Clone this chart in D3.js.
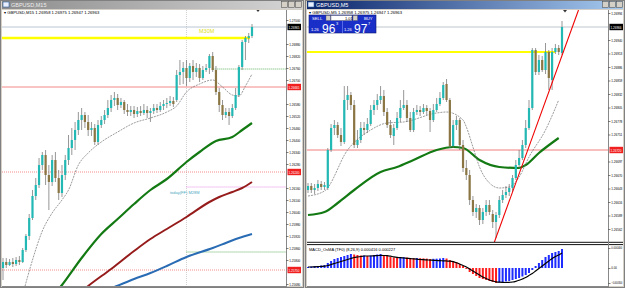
<!DOCTYPE html>
<html><head><meta charset="utf-8">
<script src="https://cdn.jsdelivr.net/npm/d3@7"></script>
<style>
body{margin:0;background:#d4d0c8;overflow:hidden}
svg{display:block;font-family:"Liberation Sans",Arial,sans-serif}
</style></head><body>
<script>
const W = 625, H = 288

// GBPUSD M15 candles [open, high, low, close]
const m15 = [
[1.25760,1.25810,1.25700,1.25790],[1.25790,1.25810,1.25760,1.25775],[1.25775,1.25805,1.25770,1.25790],
[1.25790,1.25810,1.25765,1.25780],[1.25780,1.25815,1.25770,1.25800],[1.25800,1.25820,1.25775,1.25790],
[1.25790,1.25860,1.25785,1.25850],[1.25850,1.25930,1.25840,1.25920],[1.25920,1.26030,1.25900,1.26010],
[1.26010,1.26150,1.26000,1.26120],[1.26120,1.26210,1.26100,1.26175],[1.26175,1.26310,1.26160,1.26275],
[1.26275,1.26340,1.26250,1.26325],[1.26325,1.26350,1.26175,1.26225],[1.26225,1.26275,1.26050,1.26190],
[1.26190,1.26325,1.26170,1.26300],[1.26300,1.26340,1.26190,1.26210],[1.26210,1.26250,1.26100,1.26135],
[1.26135,1.26275,1.26115,1.26225],[1.26225,1.26325,1.26200,1.26300],[1.26300,1.26425,1.26275,1.26360],
[1.26360,1.26460,1.26325,1.26400],[1.26400,1.26490,1.26350,1.26450],[1.26450,1.26540,1.26425,1.26500],
[1.26500,1.26560,1.26450,1.26525],[1.26525,1.26540,1.26460,1.26490],[1.26490,1.26525,1.26420,1.26450],
[1.26450,1.26490,1.26420,1.26460],[1.26460,1.26480,1.26375,1.26390],[1.26390,1.26500,1.26375,1.26475],
[1.26475,1.26520,1.26460,1.26500],[1.26500,1.26550,1.26480,1.26525],[1.26525,1.26600,1.26510,1.26560],
[1.26560,1.26625,1.26540,1.26600],[1.26600,1.26640,1.26570,1.26610],[1.26610,1.26630,1.26550,1.26575],
[1.26575,1.26610,1.26560,1.26590],[1.26590,1.26600,1.26530,1.26550],[1.26550,1.26580,1.26520,1.26540],
[1.26540,1.26570,1.26520,1.26550],[1.26550,1.26570,1.26510,1.26530],[1.26530,1.26565,1.26515,1.26545],
[1.26545,1.26570,1.26520,1.26535],[1.26535,1.26580,1.26525,1.26550],[1.26550,1.26570,1.26510,1.26535],
[1.26535,1.26560,1.26490,1.26545],[1.26545,1.26580,1.26530,1.26560],[1.26560,1.26580,1.26535,1.26550],
[1.26550,1.26590,1.26540,1.26570],[1.26570,1.26600,1.26550,1.26580],[1.26580,1.26610,1.26560,1.26585],
[1.26585,1.26620,1.26570,1.26595],[1.26595,1.26615,1.26565,1.26580],[1.26600,1.26750,1.26590,1.26725],
[1.26725,1.26800,1.26675,1.26740],[1.26740,1.26790,1.26680,1.26760],[1.26760,1.26800,1.26670,1.26710],
[1.26710,1.26785,1.26690,1.26770],[1.26770,1.26800,1.26700,1.26740],[1.26740,1.26785,1.26715,1.26760],
[1.26760,1.26780,1.26690,1.26710],[1.26710,1.26770,1.26700,1.26750],[1.26750,1.26780,1.26740,1.26760],
[1.26760,1.26830,1.26730,1.26820],[1.26820,1.26840,1.26740,1.26750],[1.26750,1.26770,1.26625,1.26640],
[1.26640,1.26660,1.26540,1.26575],[1.26575,1.26600,1.26500,1.26525],[1.26525,1.26560,1.26510,1.26540],
[1.26540,1.26560,1.26475,1.26520],[1.26520,1.26580,1.26510,1.26560],[1.26560,1.26660,1.26550,1.26625],
[1.26625,1.26775,1.26615,1.26765],[1.26765,1.26900,1.26750,1.26890],[1.26890,1.26920,1.26800,1.26910],
[1.26910,1.26935,1.26885,1.26920],[1.26920,1.26980,1.26910,1.26965]
]

// moving averages on M15 as [bar index, price]
const m15Fast = [[6,1.25625],[9,1.25800],[12,1.25945],[15,1.26035],[18,1.26100],[20,1.26150],[23,1.26275],
  [26,1.26335],[30,1.26390],[35,1.26440],[40,1.26485],[45,1.26510],[50,1.26540],[53,1.26570],[56,1.26640],
  [60,1.26680],[64,1.26700],[67,1.26665],[70,1.26625],[72,1.26620],[74,1.26670],[76,1.26730]]
const m15Green = [[14,1.25595],[18,1.25675],[24,1.25810],[30,1.25930],[35,1.26005],[40,1.26080],[45,1.26150],
  [50,1.26205],[56,1.26290],[60,1.26340],[65,1.26395],[70,1.26415],[73,1.26450],[76,1.26485]]
const m15Maroon = [[22,1.25615],[26,1.25670],[33,1.25755],[40,1.25845],[45,1.25905],[50,1.25955],[56,1.26015],
  [63,1.26090],[66,1.26115],[70,1.26140],[73,1.26160],[76,1.26190]]
const m15Blue = [[30,1.25640],[34,1.25665],[40,1.25705],[45,1.25735],[50,1.25770],[56,1.25815],[64,1.25860],
  [68,1.25885],[72,1.25910],[76,1.25930]]

const m15Yellow = 1.26910
const m15Red = 1.26665
const m15RedDotted = [1.26240, 1.25750]
const m15GreenDotted = [[64, 1.26755], [56, 1.25840]]
const m15Magenta = [56, 1.26165]
const m15Session = 56
const m15Ticks = d3.range(0, 23).map(k => +(1.27000 - k * 0.0006).toFixed(5))

// GBPUSD M5 candles [open, high, low, close]
const m5 = [
[1.26640,1.26654,1.26634,1.26648],[1.26648,1.26654,1.26634,1.26640],[1.26640,1.26652,1.26632,1.26644],
[1.26644,1.26660,1.26638,1.26652],[1.26652,1.26658,1.26640,1.26646],[1.26646,1.26656,1.26640,1.26650],
[1.26644,1.26724,1.26640,1.26720],[1.26720,1.26772,1.26716,1.26764],[1.26764,1.26780,1.26750,1.26770],
[1.26770,1.26776,1.26744,1.26750],[1.26750,1.26764,1.26728,1.26736],[1.26736,1.26848,1.26732,1.26820],
[1.26820,1.26848,1.26800,1.26830],[1.26830,1.26836,1.26800,1.26810],[1.26810,1.26820,1.26724,1.26730],
[1.26730,1.26760,1.26724,1.26740],[1.26740,1.26776,1.26734,1.26764],[1.26764,1.26776,1.26750,1.26760],
[1.26760,1.26784,1.26754,1.26772],[1.26772,1.26810,1.26768,1.26800],[1.26800,1.26820,1.26790,1.26810],
[1.26810,1.26832,1.26800,1.26820],[1.26820,1.26848,1.26812,1.26828],[1.26828,1.26840,1.26788,1.26796],
[1.26796,1.26804,1.26764,1.26770],[1.26770,1.26780,1.26744,1.26750],[1.26748,1.26772,1.26730,1.26764],
[1.26764,1.26796,1.26760,1.26784],[1.26784,1.26820,1.26776,1.26804],[1.26804,1.26840,1.26800,1.26810],
[1.26810,1.26820,1.26776,1.26784],[1.26784,1.26796,1.26756,1.26760],[1.26760,1.26804,1.26756,1.26796],
[1.26796,1.26810,1.26790,1.26800],[1.26800,1.26808,1.26788,1.26796],[1.26796,1.26812,1.26792,1.26804],
[1.26804,1.26810,1.26790,1.26798],[1.26798,1.26804,1.26756,1.26780],[1.26780,1.26812,1.26776,1.26800],
[1.26800,1.26824,1.26796,1.26812],[1.26812,1.26836,1.26808,1.26824],[1.26824,1.26856,1.26820,1.26850],
[1.26852,1.26862,1.26816,1.26820],[1.26820,1.26824,1.26724,1.26728],[1.26728,1.26780,1.26724,1.26770],
[1.26770,1.26788,1.26760,1.26780],[1.26780,1.26784,1.26720,1.26730],[1.26730,1.26740,1.26676,1.26684],
[1.26684,1.26700,1.26660,1.26670],[1.26670,1.26680,1.26610,1.26620],[1.26620,1.26628,1.26588,1.26596],
[1.26596,1.26612,1.26584,1.26604],[1.26604,1.26610,1.26570,1.26580],[1.26580,1.26604,1.26572,1.26596],
[1.26596,1.26620,1.26588,1.26610],[1.26610,1.26620,1.26590,1.26596],[1.26592,1.26600,1.26564,1.26576],
[1.26576,1.26596,1.26544,1.26590],[1.26590,1.26628,1.26584,1.26620],[1.26620,1.26640,1.26614,1.26630],
[1.26630,1.26648,1.26624,1.26636],[1.26636,1.26652,1.26628,1.26644],[1.26644,1.26670,1.26636,1.26664],
[1.26664,1.26700,1.26660,1.26690],[1.26690,1.26720,1.26684,1.26704],[1.26704,1.26740,1.26700,1.26730],
[1.26730,1.26780,1.26724,1.26764],[1.26764,1.26820,1.26760,1.26804],[1.26804,1.26924,1.26800,1.26920],
[1.26920,1.26924,1.26870,1.26876],[1.26876,1.26910,1.26870,1.26900],[1.26900,1.26908,1.26876,1.26880],
[1.26880,1.26934,1.26872,1.26916],[1.26916,1.26920,1.26840,1.26864],[1.26860,1.26924,1.26840,1.26916],
[1.26916,1.26932,1.26912,1.26924],[1.26924,1.26930,1.26910,1.26916],[1.26914,1.26978,1.26910,1.26966]
]

const m5Fast = [[0,1.26628],[5,1.26638],[12,1.26720],[19,1.26760],[24,1.26774],[29,1.26776],[39,1.26794],
  [42,1.26796],[47,1.26780],[48,1.26766],[50,1.26726],[52,1.26686],[55,1.26654],[58,1.26644],[61,1.26646],
  [64,1.26666],[67,1.26706],[72,1.26760],[76,1.26820]]
const m5Green = [[0,1.26590],[5,1.26596],[9,1.26614],[14,1.26640],[22,1.26676],[27,1.26686],[32,1.26700],
  [39,1.26720],[44,1.26726],[47,1.26724],[52,1.26700],[58,1.26686],[64,1.26684],[66,1.26690],[70,1.26714],[76,1.26744]]
const m5Yellow = 1.26916
const m5Red = 1.26720
const m5Trend = [[56.4, 1.26534], [82, 1.27000]]
const m5Ticks = d3.range(0, 18).map(k => +(1.26994 - k * 0.00027).toFixed(5))

// MACD OsMA (8,26,9) histogram and signal, one per M5 bar
const osma = [0.00002,0.00003,0.00004,0.00004,0.00005,0.00006,0.0001,0.00014,0.00018,0.0002,0.00022,0.00024,
  0.00026,0.00028,0.00027,0.00026,0.00025,0.00025,0.00024,0.00025,0.00026,0.00027,0.00028,0.00026,0.00024,
  0.00022,0.00021,0.0002,0.00021,0.00022,0.00021,0.0002,0.000196,0.0002,0.000196,0.000192,0.000188,0.00018,
  0.000184,0.000186,0.00019,0.0002,0.00019,0.00016,0.00014,0.00012,0.00008,0.00004,-0.00002,-0.00008,
  -0.00012,-0.00016,-0.0002,-0.00022,-0.00024,-0.00026,-0.00028,-0.0003,-0.00029,-0.00028,-0.00027,-0.00026,
  -0.00024,-0.00022,-0.0002,-0.00017,-0.00014,-0.0001,-0.00004,0.00004,0.0001,0.00016,0.00022,0.00026,
  0.0003,0.00032,0.00034,0.00038]
const signal = [0.00002,0.00002,0.000024,0.000028,0.000032,0.000036,0.00005,0.00007,0.00009,0.00011,0.00013,
  0.00015,0.00017,0.00019,0.00021,0.00022,0.00023,0.00024,0.00024,0.00024,0.000244,0.000248,0.000252,0.00025,
  0.000246,0.000236,0.000224,0.000214,0.000206,0.0002,0.000194,0.000188,0.000182,0.000176,0.00017,0.000166,
  0.000162,0.000158,0.000154,0.00015,0.000146,0.000144,0.00014,0.000136,0.000126,0.000106,0.00008,0.00005,
  0.00002,-0.00002,-0.00006,-0.0001,-0.00014,-0.00018,-0.00021,-0.00024,-0.00026,-0.000276,-0.000284,
  -0.000288,-0.00029,-0.000286,-0.00028,-0.000266,-0.000246,-0.00022,-0.00019,-0.00015,-0.00011,-0.00006,
  -0.00001,0.00004,0.00009,0.00014,0.00019,0.00023,0.00026,0.0003]
const macdTicks = [0.0004, 0, -0.0003]

const bull = '#22b8b4', bear = '#8a7543'

const svg = d3.select('body').append('svg').attr('width', W).attr('height', H)
const defs = svg.append('defs')

function grad(id, c1, c2) {
  const g = defs.append('linearGradient').attr('id', id)
  g.append('stop').attr('offset', '0%').attr('stop-color', c1)
  g.append('stop').attr('offset', '100%').attr('stop-color', c2)
}
grad('inactive', '#8c8c8c', '#d6d6d6')
grad('active', '#0a246a', '#a6caf0')

function clip(id, x, y, w, h) {
  defs.append('clipPath').attr('id', id).append('rect').attr('x', x).attr('y', y).attr('width', w).attr('height', h)
}
clip('clipL', 2, 10, 284.5, 276.5)
clip('clipR', 307, 10, 301.5, 232)
clip('clipM', 307, 245, 301.5, 41)

function windowFrame(x0, w, title, active) {
  const g = svg.append('g')
  g.append('rect').attr('x', x0 + 0.5).attr('y', 0.5).attr('width', w - 1).attr('height', H - 1)
    .attr('fill', '#d4d0c8').attr('stroke', '#808080')
  g.append('rect').attr('x', x0 + 2).attr('y', 1).attr('width', w - 4).attr('height', 8)
    .attr('fill', `url(#${active ? 'active' : 'inactive'})`)
  g.append('rect').attr('x', x0 + 3).attr('y', 2).attr('width', 6).attr('height', 5)
    .attr('fill', '#e8f0ff').attr('stroke', '#3060a0').attr('stroke-width', 0.6)
  g.append('text').attr('x', x0 + 11).attr('y', 7.3).attr('font-size', 5.5)
    .attr('fill', active ? '#ffffff' : '#eeeeee').text(title)
  ;[22, 15, 8].forEach(o => {
    g.append('rect').attr('x', x0 + w - o - 0.5).attr('y', 1.5).attr('width', 6).attr('height', 6)
      .attr('fill', '#d4d0c8').attr('stroke', '#404040').attr('stroke-width', 0.5)
  })
  g.append('rect').attr('x', x0 + 2).attr('y', 10).attr('width', w - 4).attr('height', H - 12).attr('fill', '#fff')
}
windowFrame(0, 304, 'GBPUSD,M15', false)
windowFrame(305, 320, 'GBPUSD,M5', true)

// scales
const xL = d3.scaleLinear().domain([0, 76]).range([3, 252])
const yL = d3.scaleLinear().domain([1.25680, 1.27000]).range([284, 20])
const xR = d3.scaleLinear().domain([0, 77]).range([308, 562])
const yR = d3.scaleLinear().domain([1.26536, 1.27000]).range([242, 10])
const yM = d3.scaleLinear().domain([-0.00032, 0.00042]).range([284, 247])

function hline(g, y, x1, x2, color, width, dash) {
  g.append('line').attr('x1', x1).attr('x2', x2).attr('y1', y).attr('y2', y)
    .attr('stroke', color).attr('stroke-width', width).attr('stroke-dasharray', dash || null)
}

function drawMA(g, pts, x, y, color, width, dash) {
  g.append('path').datum(pts)
    .attr('d', d3.line().x(d => x(d[0])).y(d => y(d[1])).curve(d3.curveMonotoneX))
    .attr('fill', 'none').attr('stroke', color).attr('stroke-width', width)
    .attr('stroke-dasharray', dash || null)
}

function drawCandles(g, data, x, y) {
  const c = g.selectAll('g.c').data(data).join('g').attr('class', 'c')
  c.append('line').attr('x1', (d, i) => x(i)).attr('x2', (d, i) => x(i))
    .attr('y1', d => y(d[1])).attr('y2', d => y(d[2])).attr('stroke', '#6a6a6a').attr('stroke-width', 0.7)
  c.append('rect').attr('x', (d, i) => x(i) - 1.1).attr('width', 2.2)
    .attr('y', d => y(Math.max(d[0], d[3])))
    .attr('height', d => Math.max(0.8, Math.abs(y(d[0]) - y(d[3]))))
    .attr('fill', d => d[3] >= d[0] ? bull : bear)
}

// price scale on the right of a pane; labels that a marker box would cover are dropped
function priceAxis(x0, y, ticks, fmt, boxes, size) {
  const shown = ticks.filter(t => !(boxes || []).some(b => Math.abs(y(t) - y(b)) < 6))
  const ax = svg.append('g').attr('transform', `translate(${x0},0)`)
    .call(d3.axisRight(y).tickValues(shown).tickSize(2).tickPadding(0.8).tickFormat(fmt))
  ax.select('.domain').remove()
  ax.selectAll('text').attr('font-size', size || 3.9).attr('fill', '#000').attr('font-family', '"Liberation Sans",Arial')
    .attr('textLength', 11).attr('lengthAdjust', 'spacingAndGlyphs')
  ax.selectAll('line').attr('stroke', '#000').attr('stroke-width', 0.5)
  return ax
}

function priceBox(x0, yy, label, color) {
  svg.append('rect').attr('x', x0 + 1).attr('y', yy - 3.2).attr('width', 13.5).attr('height', 6.4).attr('fill', color)
  svg.append('text').attr('x', x0 + 2).attr('y', yy + 1.6).attr('font-size', 3.9).attr('fill', '#fff')
    .attr('textLength', 11).attr('lengthAdjust', 'spacingAndGlyphs').text(label)
}

const f5 = d3.format('.5f')

// ---------- left chart M15 ----------
const gL = svg.append('g').attr('clip-path', 'url(#clipL)')
gL.append('text').attr('x', 4).attr('y', 14.2).attr('font-size', 4.2).attr('fill', '#000')
  .text('▾ GBPUSD,M15  1.26958 1.26975 1.26947 1.26963')
gL.append('line').attr('x1', xL(m15Session)).attr('x2', xL(m15Session)).attr('y1', 10).attr('y2', 287)
  .attr('stroke', '#b0b0b0').attr('stroke-width', 0.6).attr('stroke-dasharray', '1,1')
hline(gL, yL(m15Red), 2, 287, '#f06a6a', 0.8)
m15RedDotted.forEach(p => hline(gL, yL(p), 2, 287, '#f07070', 0.8, '1,1'))
m15GreenDotted.forEach(d => hline(gL, yL(d[1]), xL(d[0]), 287, '#3aa03a', 0.8, '1,1'))
hline(gL, yL(m15Magenta[1]), xL(m15Magenta[0]), 287, '#e070e0', 0.8, '1,1')
hline(gL, yL(m15Yellow), 2, 250, '#ffff00', 2.4)
gL.append('text').attr('x', 199).attr('y', 32.5).attr('font-size', 5.5).attr('fill', '#e0e020').text('M30M')
gL.append('text').attr('x', 170).attr('y', 193.5).attr('font-size', 4).attr('fill', '#4aa8c0').text('today(FF) M28M')
hline(gL, yL(m15[m15.length - 1][3]), 2, 287, '#a8b8c8', 0.8)
drawMA(gL, m15Blue, xL, yL, '#2a6cb4', 2)
drawMA(gL, m15Maroon, xL, yL, '#961c1c', 2)
drawMA(gL, m15Green, xL, yL, '#137a13', 2.2)
drawMA(gL, m15Fast, xL, yL, '#707070', 0.7, '2,1')
drawCandles(gL, m15, xL, yL)
gL.append('path').attr('d', 'M256,9.5 h4 l-2,2.5 z').attr('fill', '#333')

svg.append('line').attr('x1', 286.5).attr('x2', 286.5).attr('y1', 10).attr('y2', 287).attr('stroke', '#888').attr('stroke-width', 1)
svg.append('line').attr('x1', 2).attr('x2', 287).attr('y1', 286.5).attr('y2', 286.5).attr('stroke', '#888').attr('stroke-width', 1)
const lastL = m15[m15.length - 1][3]
priceAxis(286.5, yL, m15Ticks, f5, [lastL, m15Red, ...m15RedDotted])
priceBox(286.5, yL(lastL), f5(lastL), '#000')
priceBox(286.5, yL(m15Red), f5(m15Red), '#f02020')
m15RedDotted.forEach(p => priceBox(286.5, yL(p), f5(p), '#f02020'))

// ---------- right chart M5 ----------
const gR = svg.append('g').attr('clip-path', 'url(#clipR)')
gR.append('text').attr('x', 309).attr('y', 13.5).attr('font-size', 4.2).attr('fill', '#000')
  .text('▾ GBPUSD,M5  1.26958 1.26975 1.26947 1.26963')
hline(gR, yR(m5Red), 307, 609, '#f07070', 0.9)
hline(gR, yR(m5Yellow), 307, 555, '#ffff00', 2.2)
hline(gR, yR(m5[m5.length - 1][3]), 307, 609, '#b0b8c0', 0.8)
drawMA(gR, m5Green, xR, yR, '#137a13', 2.2)
drawMA(gR, m5Fast, xR, yR, '#707070', 0.7, '2,1')
drawCandles(gR, m5, xR, yR)
gR.append('line').attr('x1', xR(m5Trend[0][0])).attr('y1', yR(m5Trend[0][1]))
  .attr('x2', xR(m5Trend[1][0])).attr('y2', yR(m5Trend[1][1])).attr('stroke', '#f00000').attr('stroke-width', 1.1)
gR.append('path').attr('d', 'M563,10 h4 l-2,2.5 z').attr('fill', '#333')

// one-click trading panel
const pnl = svg.append('g')
pnl.append('rect').attr('x', 309).attr('y', 15).attr('width', 67).attr('height', 18).attr('fill', '#1a2fc8').attr('stroke', '#0a1470').attr('stroke-width', 0.6)
pnl.append('line').attr('x1', 342.5).attr('x2', 342.5).attr('y1', 21).attr('y2', 33).attr('stroke', '#8090ff').attr('stroke-width', 0.6)
pnl.append('rect').attr('x', 331).attr('y', 15.5).attr('width', 21).attr('height', 5).attr('fill', '#fff').attr('stroke', '#555').attr('stroke-width', 0.4)
;[326, 353].forEach(x => pnl.append('rect').attr('x', x).attr('y', 15.5).attr('width', 4.5).attr('height', 5).attr('fill', '#d4d0c8').attr('stroke', '#555').attr('stroke-width', 0.4))
pnl.append('text').attr('x', 345).attr('y', 19.6).attr('font-size', 4).attr('fill', '#000').text('1.01')
pnl.append('text').attr('x', 312).attr('y', 19.8).attr('font-size', 4.2).attr('fill', '#fff').text('SELL')
pnl.append('text').attr('x', 364).attr('y', 19.8).attr('font-size', 4.2).attr('fill', '#fff').text('BUY')
pnl.append('text').attr('x', 311).attr('y', 31).attr('font-size', 4).attr('fill', '#fff').text('1.26')
pnl.append('text').attr('x', 322).attr('y', 32.5).attr('font-size', 12).attr('fill', '#fff').text('96')
pnl.append('text').attr('x', 336).attr('y', 24.5).attr('font-size', 4).attr('fill', '#fff').text('3')
pnl.append('text').attr('x', 344).attr('y', 31).attr('font-size', 4).attr('fill', '#fff').text('1.26')
pnl.append('text').attr('x', 354).attr('y', 32.5).attr('font-size', 12).attr('fill', '#fff').text('97')
pnl.append('text').attr('x', 368).attr('y', 24.5).attr('font-size', 4).attr('fill', '#fff').text('7')

// MACD pane
const gM = svg.append('g').attr('clip-path', 'url(#clipM)')
gM.selectAll('rect.h').data(osma).join('rect').attr('class', 'h')
  .attr('x', (d, i) => xR(i) - 1).attr('width', 2)
  .attr('y', d => Math.min(yM(d), yM(0))).attr('height', d => Math.abs(yM(d) - yM(0)))
  .attr('fill', (d, i) => (i === 0 || d >= osma[i - 1]) ? '#1e2cff' : '#ff1e1e')
gM.append('path').datum(signal)
  .attr('d', d3.line().x((d, i) => xR(i)).y(d => yM(d)).curve(d3.curveMonotoneX))
  .attr('fill', 'none').attr('stroke', '#000').attr('stroke-width', 1.2)
gM.append('text').attr('x', 309).attr('y', 250.5).attr('font-size', 4).attr('fill', '#000')
  .text('MACD_OsMA (TF0) (8,26,9) 0.000416 0.000227')

svg.append('line').attr('x1', 307).attr('x2', 623).attr('y1', 242.3).attr('y2', 242.3).attr('stroke', '#111').attr('stroke-width', 1)
svg.append('line').attr('x1', 307).attr('x2', 623).attr('y1', 244.6).attr('y2', 244.6).attr('stroke', '#111').attr('stroke-width', 1)
svg.append('line').attr('x1', 608.5).attr('x2', 608.5).attr('y1', 10).attr('y2', 287).attr('stroke', '#888').attr('stroke-width', 1)
svg.append('line').attr('x1', 307).attr('x2', 609).attr('y1', 286.5).attr('y2', 286.5).attr('stroke', '#888').attr('stroke-width', 1)

const lastR = m5[m5.length - 1][3]
priceAxis(608.5, yR, m5Ticks.filter(t => yR(t) < 240), f5, [lastR, m5Red])
priceAxis(608.5, yM, macdTicks, d => d === 0 ? '0.00' : d3.format('.6f')(d), [], 3)
  .selectAll('text').filter(d => d === 0).attr('textLength', 5.5)
priceBox(608.5, yR(lastR), f5(lastR), '#000')
priceBox(608.5, yR(m5Red), f5(m5Red), '#f02020')
</script></body></html>
